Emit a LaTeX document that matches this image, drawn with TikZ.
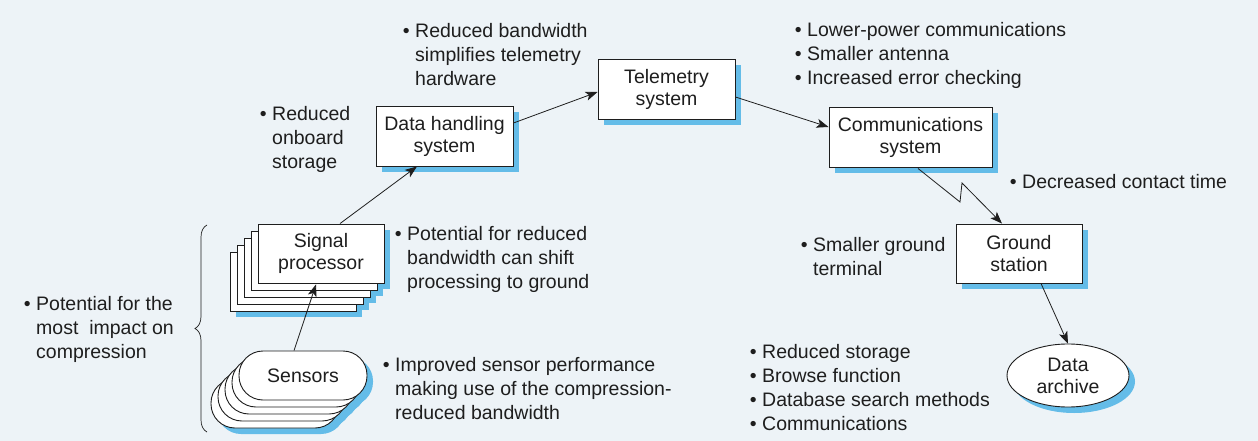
\documentclass[tikz,border=0pt]{standalone}
\usepackage{fontspec}
\setmainfont{Liberation Sans}
\usetikzlibrary{arrows.meta,shapes.geometric,shadows,decorations.pathreplacing,calc}
\definecolor{bg}{RGB}{237,243,247}
\definecolor{shadowblue}{RGB}{100,188,232}
\definecolor{ink}{RGB}{30,30,30}
\begin{document}
\begin{tikzpicture}[x=1pt,y=-1pt,
  every node/.style={font=\fontsize{19.5}{22}\selectfont, text=ink},
  blueshadow/.style={drop shadow={shadow xshift=6pt, shadow yshift=-6pt, fill=shadowblue, opacity=1}},
  pbox/.style={draw=ink, line width=0.9pt, fill=white, align=center, minimum width=#1, minimum height=60pt, inner sep=0pt, blueshadow},
  stackbox/.style={draw=ink, line width=0.9pt, fill=white, align=center, minimum width=126pt, minimum height=59pt, inner sep=0pt},
  stackshadow/.style={fill=shadowblue, minimum width=126pt, minimum height=59pt, inner sep=0pt},
  sensorbox/.style={draw=ink, line width=0.9pt, fill=white, rounded corners=24pt, minimum width=128pt, minimum height=49pt, inner sep=0pt},
  sensorshadow/.style={fill=shadowblue, rounded corners=24pt, minimum width=128pt, minimum height=49pt, inner sep=0pt},
  archivebox/.style={ellipse, draw=ink, line width=0.9pt, fill=white, align=center, minimum width=122pt, minimum height=63pt, inner sep=0pt, blueshadow},
  note/.style={anchor=base west, align=left, inner sep=0pt, font=\fontsize{19.5}{24}\selectfont},
  conn/.style={draw=ink, line width=0.8pt, -{Stealth[length=12pt, width=9pt, inset=3pt]}},
  bracestyle/.style={draw=ink, line width=0.7pt, decorate, decoration={brace, amplitude=12pt}}
]
\useasboundingbox[fill=bg] (0,0) rectangle (1258,441);

% Signal processor stack: shadows first, then boxes
\foreach \k in {4,3,2,1,0} {
  \node[stackshadow] (sps\k) at ({321-7*\k+6},{253.5+7*\k+6}) {};
}
\foreach \k in {4,3,2,1} {
  \node[stackbox] (sp\k) at ({321-7*\k},{253.5+7*\k}) {};
}
\node[stackbox] (sp) at (321,253.5) {Signal\\processor};

% Sensors stack: shadows first, then shapes
\foreach \k in {4,3,2,1,0} {
  \node[sensorshadow] (ses\k) at ({303-7*\k+6},{375.5+7*\k+6}) {};
}
\foreach \k in {4,3,2,1} {
  \node[sensorbox] (se\k) at ({303-7*\k},{375.5+7*\k}) {};
}
\node[sensorbox] (se) at (303,375.5) {Sensors};

% Main boxes
\node[pbox=137pt] (dh) at (444.5,136) {Data handling\\system};
\node[pbox=137pt] (tel) at (666.5,89) {Telemetry\\system};
\node[pbox=163pt] (comm) at (910.5,137) {Communications\\system};
\node[pbox=126pt, minimum height=59pt] (gs) at (1019,253.5) {Ground\\station};
\node[archivebox] (arch) at (1068,375.5) {Data\\archive};

% Connectors
\draw[conn] ($(se.north)+(-9,0)$) -- ($(sp.south)+(-5,1)$);
\draw[conn] ($(sp.north)+(19,0)$) -- ($(dh.south)+(-27.5,0)$);
\draw[conn] ($(dh.east)+(0,-13)$) -- ($(tel.west)+(0,3)$);
\draw[conn] ($(tel.east)+(0,8)$) -- ($(comm.west)+(0,-10)$);
\draw[conn] ($(comm.south)+(7.5,1)$) -- (960,202) -- (962,183) -- ($(gs.north)+(-17,0)$);
\draw[conn] ($(gs.south)+(22,0)$) -- (arch.north);

% Brace
\coordinate (bb) at (207,432);
\coordinate (bt) at (207,225);
\draw[bracestyle] (bb) -- (bt);

% Notes (anchor = baseline of the last line)
\node[note] (n1) at (415,86) {\llap{\textbullet\ }Reduced bandwidth\\simplifies telemetry\\hardware};
\node[note] (n2) at (272,168) {\llap{\textbullet\ }Reduced\\onboard\\storage};
\node[note] (n3) at (807,85) {\llap{\textbullet\ }Lower-power communications\\\llap{\textbullet\ }Smaller antenna\\\llap{\textbullet\ }Increased error checking};
\node[note] (n4) at (1022,188) {\llap{\textbullet\ }Decreased contact time};
\node[note] (n5) at (813,275) {\llap{\textbullet\ }Smaller ground\\terminal};
\node[note] (n6) at (407,288) {\llap{\textbullet\ }Potential for reduced\\bandwidth can shift\\processing to ground};
\node[note] (n7) at (395,419) {\llap{\textbullet\ }Improved sensor performance\\making use of the compression-\\reduced bandwidth};
\node[note] (n8) at (762,430) {\llap{\textbullet\ }Reduced storage\\\llap{\textbullet\ }Browse function\\\llap{\textbullet\ }Database search methods\\\llap{\textbullet\ }Communications};
\node[note] (n9) at (36,358) {\llap{\textbullet\ }Potential for the\\most\ \ impact on\\compression};
\end{tikzpicture}
\end{document}
